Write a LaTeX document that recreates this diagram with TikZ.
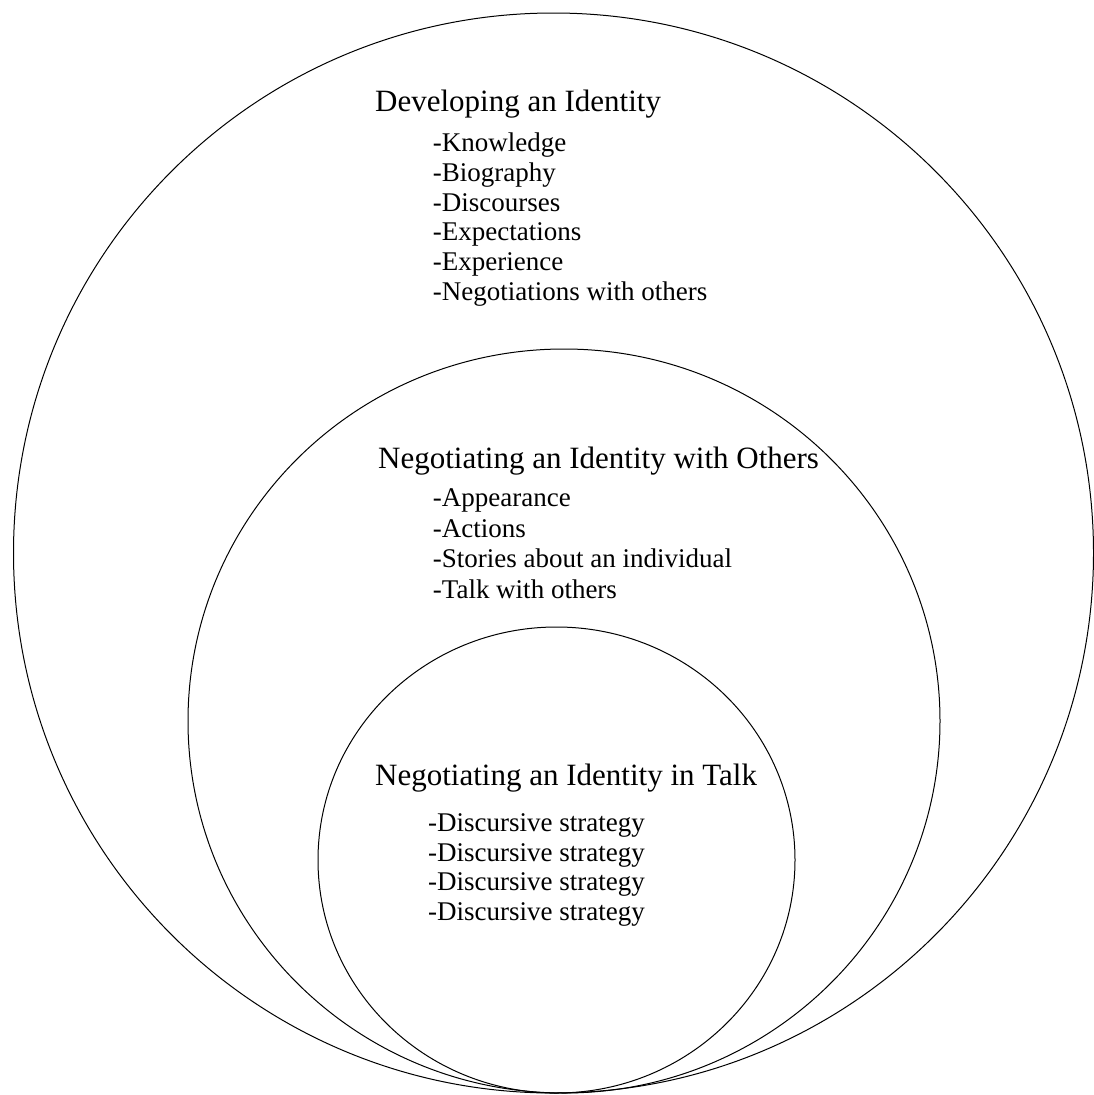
\documentclass[tikz,border=0pt]{standalone}
\usepackage{fontspec}
\setmainfont{Liberation Serif}

\tikzset{
  ring/.style={draw=black, line width=1pt},
  headtext/.style={anchor=base west, inner sep=0pt, font=\fontsize{31}{36}\selectfont},
  itemtext/.style={anchor=base west, inner sep=0pt, font=\fontsize{27}{30}\selectfont}
}

\begin{document}
\begin{tikzpicture}[x=1pt,y=-1pt]
		\useasboundingbox (0,0) rectangle (1094,1095);
		% the three rings, all touching at the bottom
		\draw[ring] (553.5,553) ellipse (540 and 540);
		\draw[ring] (564,721) ellipse (376 and 372);
		\draw[ring] (556.5,860) ellipse (238.5 and 233);
		% outer ring
		\node[headtext] (devhead) at (375,111.7) {Developing an Identity};
		\foreach \t [count=\i] in {Knowledge,Biography,Discourses,Expectations,Experience,Negotiations with others}
			\node[itemtext] (dev\i) at (432.7,{151.7+29.7*(\i-1)}) {-\t};
		% middle ring
		\node[headtext] (otherhead) at (378,468) {Negotiating an Identity with Others};
		\foreach \t [count=\i] in {Appearance,Actions,Stories about an individual,Talk with others}
			\node[itemtext] (other\i) at (432.7,{506.7+30.5*(\i-1)}) {-\t};
		% inner ring
		\node[headtext] (talkhead) at (375,785) {Negotiating an Identity in Talk};
		\foreach \i in {1,...,4}
			\node[itemtext] (talk\i) at (428,{831.7+29.5*(\i-1)}) {-Discursive strategy};
\end{tikzpicture}
\end{document}
